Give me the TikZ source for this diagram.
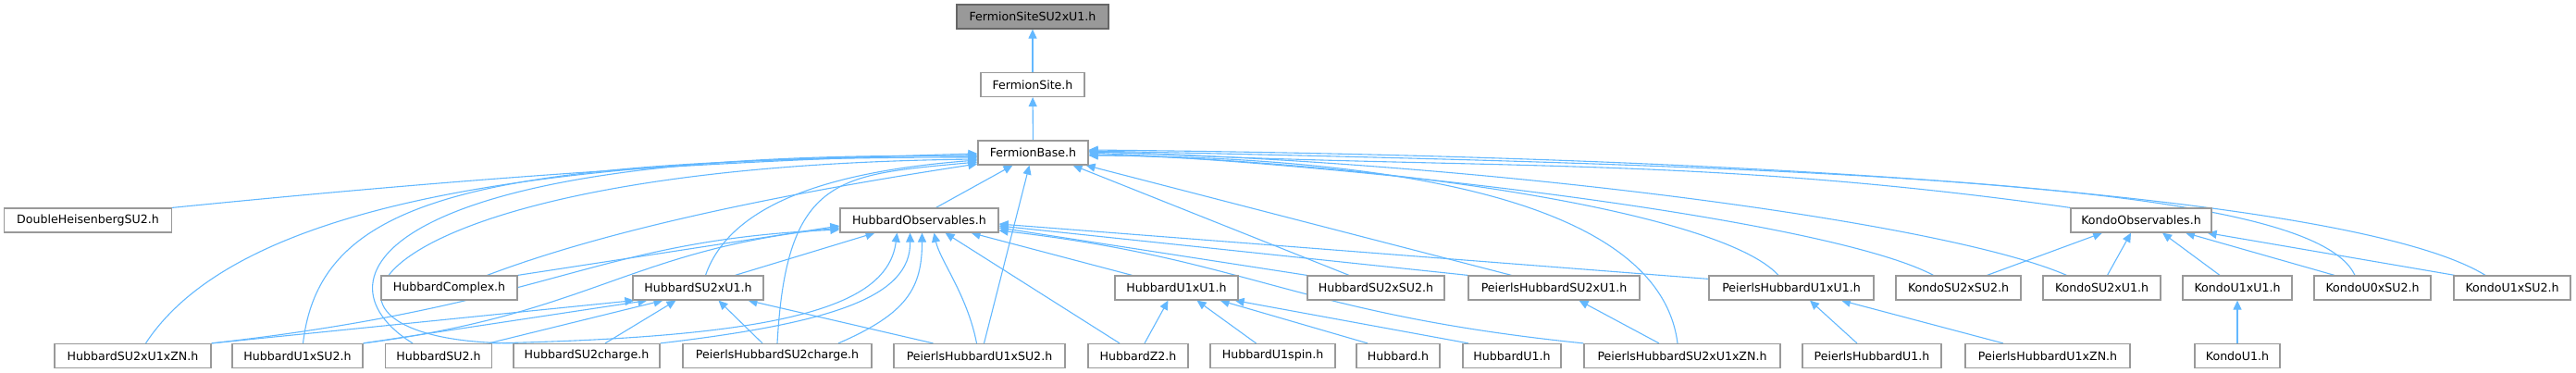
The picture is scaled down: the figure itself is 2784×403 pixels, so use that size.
\documentclass[tikz,border=0pt]{standalone}
\usepackage{fontspec}
\setmainfont{DejaVu Sans}
\usetikzlibrary{arrows.meta, backgrounds}
\definecolor{edgeBlue}{HTML}{63B8FF}
\definecolor{nodeGray}{HTML}{999999}
\definecolor{rootGray}{HTML}{666666}

\begin{document}
\begin{tikzpicture}[
    x=1pt, y=-1pt,
    filenode/.style={draw=nodeGray, fill=white, line width=1.2pt, minimum height=26pt, inner xsep=3pt, inner ysep=0pt, font=\fontsize{12.6}{15}\selectfont},
    rootnode/.style={filenode, draw=rootGray, fill=nodeGray},
    incl/.style={-{Triangle[length=10pt, width=9pt]}, draw=edgeBlue, line width=1.1pt},
]
    \useasboundingbox (0,0) rectangle (2784,403);

    \node[rootnode, minimum width=164pt] (root) at (1116,18) {FermionSiteSU2xU1.h};
    \node[filenode, minimum width=112pt] (fsite) at (1116,91.5) {FermionSite.h};
    \node[filenode, minimum width=119pt] (fbase) at (1116.5,165) {FermionBase.h};

    \node[filenode, minimum width=181pt] (dheis) at (95,238) {DoubleHeisenbergSU2.h};
    \node[filenode, minimum width=171pt] (hobs) at (993.5,238) {HubbardObservables.h};
    \node[filenode, minimum width=152pt] (kobs) at (2314,238) {KondoObservables.h};

    \node[filenode, minimum width=147pt] (hcomplex) at (485.5,311) {HubbardComplex.h};
    \node[filenode, minimum width=141pt] (hsu2u1) at (754.5,311) {HubbardSU2xU1.h};
    \node[filenode, minimum width=133pt] (hu1u1) at (1271.5,311) {HubbardU1xU1.h};
    \node[filenode, minimum width=148pt] (hsu2su2) at (1487,311) {HubbardSU2xSU2.h};
    \node[filenode, minimum width=185pt] (phsu2u1) at (1679.5,311) {PeierlsHubbardSU2xU1.h};
    \node[filenode, minimum width=178pt] (phu1u1) at (1936,311) {PeierlsHubbardU1xU1.h};
    \node[filenode, minimum width=135pt] (ksu2su2) at (2116.5,311) {KondoSU2xSU2.h};
    \node[filenode, minimum width=127pt] (ksu2u1) at (2271.5,311) {KondoSU2xU1.h};
    \node[filenode, minimum width=118pt] (ku1u1) at (2418,311) {KondoU1xU1.h};
    \node[filenode, minimum width=126pt] (ku0su2) at (2564,311) {KondoU0xSU2.h};
    \node[filenode, minimum width=126pt] (ku1su2) at (2715,311) {KondoU1xSU2.h};

    \node[filenode, minimum width=169pt] (hsu2u1zn) at (143.5,384.5) {HubbardSU2xU1xZN.h};
    \node[filenode, minimum width=141pt] (hu1su2) at (321.5,384.5) {HubbardU1xSU2.h};
    \node[filenode, minimum width=115pt] (hsu2) at (474,384.5) {HubbardSU2.h};
    \node[filenode, minimum width=158pt] (hsu2ch) at (634,384.5) {HubbardSU2charge.h};
    \node[filenode, minimum width=204pt] (phsu2ch) at (840,384.5) {PeierlsHubbardSU2charge.h};
    \node[filenode, minimum width=185pt] (phu1su2) at (1058.5,384.5) {PeierlsHubbardU1xSU2.h};
    \node[filenode, minimum width=108pt] (hz2) at (1230,384.5) {HubbardZ2.h};
    \node[filenode, minimum width=135pt] (hu1spin) at (1375.5,384.5) {HubbardU1spin.h};
    \node[filenode, minimum width=90pt] (hubbard) at (1511,384.5) {Hubbard.h};
    \node[filenode, minimum width=106pt] (hu1) at (1634,384.5) {HubbardU1.h};
    \node[filenode, minimum width=212pt] (phsu2u1zn) at (1818,384.5) {PeierlsHubbardSU2xU1xZN.h};
    \node[filenode, minimum width=150pt] (phu1) at (2023,384.5) {PeierlsHubbardU1.h};
    \node[filenode, minimum width=178pt] (phu1zn) at (2213,384.5) {PeierlsHubbardU1xZN.h};
    \node[filenode, minimum width=92pt] (ku1) at (2418,384.5) {KondoU1.h};

    \begin{scope}[on background layer]
    % includes of FermionBase.h
    \draw[incl] (fsite) -- (root);
    \draw[incl] (fbase) -- (fsite);
    \draw[incl] (dheis.north east) .. controls +(300,-30) and +(-300,8) .. ([yshift=-1pt]fbase.west);
    \draw[incl] ([xshift=14pt]hsu2u1zn.north) .. controls +(93,-142) and +(-507,2) .. ([yshift=-3pt]fbase.west);
    \draw[incl] ([xshift=6pt]hu1su2.north) .. controls +(18,-152) and +(-557,0) .. ([yshift=-5pt]fbase.west);
    \draw[incl] ([xshift=-28pt]hsu2.north) .. controls +(-116,-72) and +(-637,-9) .. ([yshift=-4pt]fbase.west);
    \draw[incl] (hsu2ch.north west) .. controls +(-275,-2) and +(-677,8) .. ([yshift=-7pt]fbase.west);
    \draw[incl] ([xshift=41pt]hcomplex.north) .. controls +(153,-58) and +(-157,24) .. ([yshift=-12pt]fbase.west);
    \draw[incl] ([xshift=8pt]hsu2u1.north) .. controls +(27,-78) and +(-157,12) .. ([yshift=-8pt]fbase.west);
    \draw[incl] (phsu2ch.north) .. controls +(10,-182) and +(-150,14) .. ([yshift=-10pt]fbase.west);
    \draw[incl] ([xshift=18pt]hobs.north) -- ([xshift=-22pt]fbase.south);
    \draw[incl] ([xshift=5pt]phu1su2.north) -- ([xshift=-4pt]fbase.south);
    \draw[incl] ([xshift=-29pt]hsu2su2.north) -- ([xshift=-17pt]fbase.south east);
    \draw[incl] ([xshift=-46pt]phsu2u1.north) -- ([xshift=-3pt]fbase.south east);
    \draw[incl] ([xshift=-14pt]phu1u1.north) .. controls +(-62,-68) and +(324,8) .. ([yshift=-2pt]fbase.east);
    \draw[incl] ([xshift=-5pt]phsu2u1zn.north) .. controls +(-18,-142) and +(374,2) .. ([yshift=-3pt]fbase.east);
    \draw[incl] (kobs.north west) .. controls +(-412,-58) and +(415,22) .. ([yshift=2pt]fbase.east);
    \draw[incl] ([xshift=-27pt]ksu2su2.north) .. controls +(-109,-58) and +(324,15) .. (fbase.east);
    \draw[incl] ([xshift=-38pt]ksu2u1.north) .. controls +(-133,-58) and +(424,11) .. ([yshift=1pt]fbase.east);
    \draw[incl] ([xshift=-19pt]ku0su2.north) .. controls +(-45,-98) and +(824,17) .. ([yshift=2pt]fbase.east);
    \draw[incl] ([xshift=-29pt]ku1su2.north) .. controls +(-126,-78) and +(824,8) .. ([yshift=3pt]fbase.east);

    % includes of HubbardObservables.h
    \draw[incl] (hcomplex.north east) -- ([yshift=-6pt]hobs.west);
    \draw[incl] ([xshift=40pt]hsu2u1.north) -- ([xshift=-48pt]hobs.south);
    \draw[incl] (hsu2u1zn.north east) .. controls +(372,-42) and +(-268,12) .. ([yshift=-10pt]hobs.west);
    \draw[incl] (hu1su2.north east) .. controls +(248,-32) and +(-228,24) .. ([yshift=-8pt]hobs.west);
    \draw[incl] (hsu2.north east) .. controls +(319,-7) and +(-10,79) .. ([xshift=-24pt]hobs.south);
    \draw[incl] (hsu2ch.north east) .. controls +(187,-22) and +(1,69) .. ([xshift=-10pt]hobs.south);
    \draw[incl] ([xshift=66pt]phsu2ch.north) .. controls +(74,-32) and +(0,60) .. ([xshift=3pt]hobs.south);
    \draw[incl] ([xshift=-3pt]phu1su2.north) .. controls +(-10,-52) and +(6,29) .. ([xshift=16pt]hobs.south);
    \draw[incl] ([xshift=-20pt]hz2.north) -- ([xshift=28pt]hobs.south);
    \draw[incl] ([xshift=-48pt]hu1u1.north) -- ([xshift=-30pt]hobs.south east);
    \draw[incl] (hsu2su2.north west) -- ([yshift=-8pt]hobs.east);
    \draw[incl] (phsu2u1.north west) -- ([yshift=-6pt]hobs.east);
    \draw[incl] ([yshift=-4pt]phu1u1.north west) -- ([yshift=-4pt]hobs.east);
    \draw[incl] (phsu2u1zn.north west) .. controls +(-312,-32) and +(271,31) .. ([yshift=-11pt]hobs.east);

    % includes of HubbardSU2xU1.h
    \draw[incl] (hsu2u1zn.north east) -- ([xshift=2pt]hsu2u1.south west);
    \draw[incl] (hu1su2.north east) -- ([xshift=16pt]hsu2u1.south west);
    \draw[incl] ([xshift=-4pt]hsu2.north east) -- ([xshift=-38pt]hsu2u1.south);
    \draw[incl] ([xshift=20pt]hsu2ch.north) -- ([xshift=-24pt]hsu2u1.south);
    \draw[incl] ([xshift=-16pt]phsu2ch.north) -- ([xshift=22pt]hsu2u1.south);
    \draw[incl] ([xshift=-50pt]phu1su2.north) -- ([xshift=54pt]hsu2u1.south);

    % includes of HubbardU1xU1.h
    \draw[incl] ([xshift=7pt]hz2.north) -- ([xshift=-9pt]hu1u1.south);
    \draw[incl] ([xshift=-18pt]hu1spin.north) -- ([xshift=22pt]hu1u1.south);
    \draw[incl] ([xshift=-33pt]hubbard.north) -- ([xshift=-20pt]hu1u1.south east);
    \draw[incl] ([xshift=-47pt]hu1.north) -- ([xshift=-4pt]hu1u1.south east);

    % Peierls variants
    \draw[incl] ([xshift=-25pt]phsu2u1zn.north) -- ([xshift=27pt]phsu2u1.south);
    \draw[incl] ([xshift=-16pt]phu1.north) -- ([xshift=20pt]phu1u1.south);
    \draw[incl] ([xshift=-48pt]phu1zn.north) -- ([xshift=54pt]phu1u1.south);

    % includes of KondoObservables.h
    \draw[incl] ([xshift=31pt]ksu2su2.north) -- ([xshift=-42pt]kobs.south);
    \draw[incl] ([xshift=6pt]ksu2u1.north) -- ([xshift=-11pt]kobs.south);
    \draw[incl] ([xshift=-19pt]ku1u1.north) -- ([xshift=23pt]kobs.south);
    \draw[incl] ([xshift=-41pt]ku0su2.north) -- ([xshift=48pt]kobs.south);
    \draw[incl] ([xshift=-62pt]ku1su2.north) -- ([xshift=-5pt]kobs.south east);
    \draw[incl] (ku1) -- (ku1u1);
    \end{scope}
\end{tikzpicture}
\end{document}
